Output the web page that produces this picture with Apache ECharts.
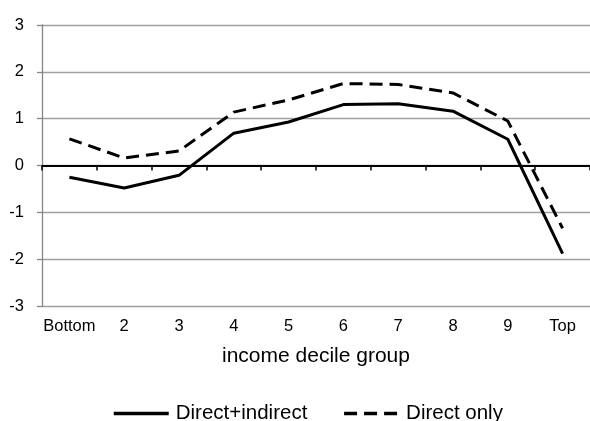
<!DOCTYPE html>
<html>
<head>
<meta charset="utf-8">
<script src="https://cdn.jsdelivr.net/npm/echarts@6/dist/echarts.min.js"></script>
<style>
html,body{margin:0;padding:0;background:#fff;}
#c{width:590px;height:421px;}
</style>
</head>
<body>
<div id="c"></div>
<script>
var categories = ['Bottom', '2', '3', '4', '5', '6', '7', '8', '9', 'Top'];
var directIndirect = [-0.25, -0.48, -0.21, 0.69, 0.93, 1.30, 1.32, 1.16, 0.56, -1.88];
var directOnly = [0.57, 0.16, 0.31, 1.14, 1.40, 1.75, 1.73, 1.55, 0.95, -1.34];
var yTicks = {min: -3, max: 3, interval: 1};
var xTitle = 'income decile group';
var seriesNames = ['Direct+indirect', 'Direct only'];

var chart = echarts.init(document.getElementById('c'), null, {renderer: 'canvas'});
var font = 'Liberation Sans, Arial, sans-serif';
chart.setOption({
  animation: false,
  backgroundColor: '#fff',
  grid: {left: 42, right: 0, top: 25, bottom: 115, containLabel: false},
  legend: {
    data: seriesNames,
    left: 107,
    top: 398,
    itemWidth: 55,
    itemHeight: 22,
    itemGap: 35,
    itemStyle: {opacity: 0},
    lineStyle: {width: 3.5},
    textStyle: {fontFamily: font, fontSize: 20.5, color: '#000', padding: [0, 0, 0, 2]}
  },
  xAxis: [
    {
      type: 'category',
      data: categories,
      position: 'bottom',
      boundaryGap: true,
      axisLine: {show: false, onZero: false},
      axisTick: {show: false},
      axisLabel: {fontFamily: font, fontSize: 16.5, color: '#000', margin: 12, interval: 0},
      name: xTitle,
      nameLocation: 'middle',
      nameGap: 40,
      nameTextStyle: {fontFamily: font, fontSize: 21, color: '#000'},
      splitLine: {show: false}
    },
    {
      type: 'category',
      data: categories,
      position: 'bottom',
      boundaryGap: true,
      axisLine: {show: true, onZero: true, lineStyle: {color: '#000', width: 2}},
      axisTick: {show: true, inside: false, length: 5, interval: 0, alignWithLabel: false, lineStyle: {color: '#000', width: 1.5}},
      axisLabel: {show: false},
      splitLine: {show: false}
    }
  ],
  yAxis: {
    type: 'value',
    min: yTicks.min,
    max: yTicks.max,
    interval: yTicks.interval,
    axisLine: {show: true, lineStyle: {color: '#868686', width: 1.3}},
    axisTick: {show: true, inside: false, length: 5, lineStyle: {color: '#868686', width: 1.3}},
    axisLabel: {fontFamily: font, fontSize: 16.5, color: '#000', margin: 18},
    splitLine: {show: true, lineStyle: {color: '#a0a0a0', width: 1.3}}
  },
  series: [
    {
      name: seriesNames[0],
      type: 'line',
      xAxisIndex: 0,
      data: directIndirect,
      showSymbol: false,
      symbol: 'none',
      lineStyle: {color: '#000', width: 3},
      itemStyle: {color: '#000'},
      z: 5
    },
    {
      name: seriesNames[1],
      type: 'line',
      xAxisIndex: 0,
      data: directOnly,
      showSymbol: false,
      symbol: 'none',
      lineStyle: {color: '#000', width: 3, type: [13, 7]},
      itemStyle: {color: '#000'},
      z: 5
    }
  ]
});
</script>
</body>
</html>
